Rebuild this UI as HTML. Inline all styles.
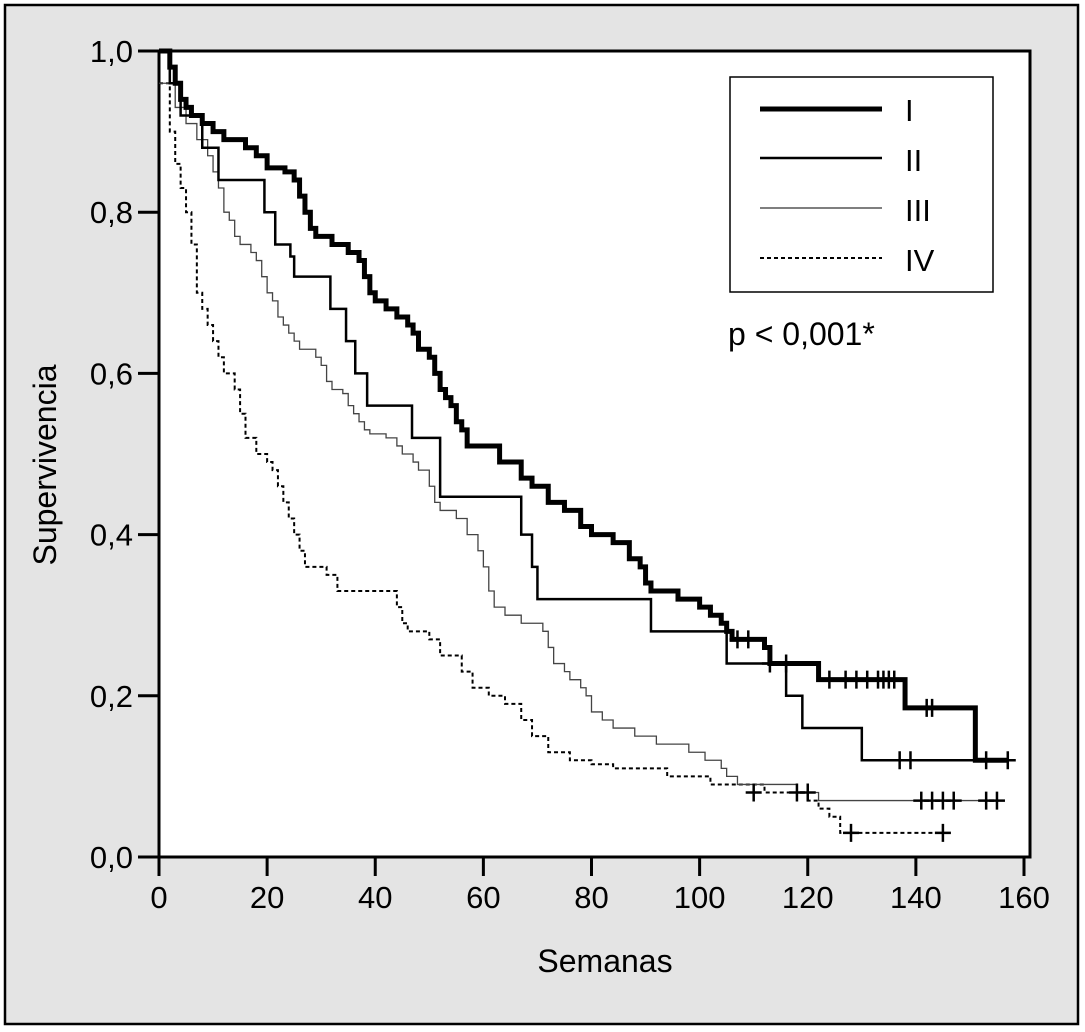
<!DOCTYPE html>
<html><head><meta charset="utf-8"><style>
body{margin:0;background:#fff}
svg{display:block;font-family:"Liberation Sans",sans-serif}
</style></head><body>
<svg id="chart" width="1085" height="1032" viewBox="0 0 1085 1032">
<rect x="0" y="0" width="1085" height="1032" fill="#fff"/>
<rect x="5" y="5" width="1073" height="1019" fill="#e4e4e4" stroke="#000" stroke-width="2.5"/>
<rect x="159" y="51" width="871" height="806" fill="#fff" stroke="#000" stroke-width="3"/>
<g id="axes"></g>
<g id="curves"></g>
<g>
<rect x="730" y="77" width="263" height="215" fill="#fff" stroke="#000" stroke-width="1.5"/>
<line x1="760" y1="109" x2="882" y2="109" stroke="#000" stroke-width="5"/>
<line x1="760" y1="158" x2="882" y2="158" stroke="#000" stroke-width="2.5"/>
<line x1="760" y1="208" x2="882" y2="208" stroke="#333" stroke-width="1.2"/>
<line x1="760" y1="258" x2="882" y2="258" stroke="#000" stroke-width="2" stroke-dasharray="4,3"/>
<text x="905" y="121" font-size="31">I</text>
<text x="905" y="171" font-size="31">II</text>
<text x="905" y="221" font-size="31">III</text>
<text x="905" y="271" font-size="31">IV</text>
</g>
<text x="728" y="345" font-size="32">p &lt; 0,001*</text>
<text x="605" y="972" font-size="32" text-anchor="middle">Semanas</text>
<text x="0" y="0" font-size="32" text-anchor="middle" transform="translate(56,465) rotate(-90)">Supervivencia</text>
</svg>
<script>
const xTicks=[0,20,40,60,80,100,120,140,160];
const yTicks=[0,0.2,0.4,0.6,0.8,1.0];
const yTickLabels=["0,0","0,2","0,4","0,6","0,8","1,0"];
const seriesI=[[0,1.0],[2,0.98],[3,0.96],[4,0.94],[5,0.93],[6,0.92],[8,0.91],[10,0.90],[12,0.89],[16,0.88],[18,0.87],[20,0.855],[23.3,0.85],[25,0.84],[26,0.82],[27,0.80],[28,0.78],[29,0.77],[32,0.76],[35,0.75],[37,0.74],[38,0.72],[39,0.70],[40,0.69],[42,0.68],[44,0.67],[46,0.66],[47,0.65],[48,0.63],[50,0.62],[51,0.60],[52,0.58],[53,0.57],[54,0.56],[55,0.54],[56,0.53],[57,0.51],[63,0.49],[67,0.47],[69,0.46],[72,0.44],[75,0.43],[78,0.41],[80,0.40],[84,0.39],[87,0.37],[89,0.36],[90,0.34],[91,0.33],[96,0.32],[100,0.31],[102,0.30],[104,0.29],[105,0.28],[106,0.27],[112,0.26],[113,0.24],[122,0.22],[138,0.185],[151,0.12],[157,0.12]];
const censI=[[107,0.27],[109,0.27],[113,0.24],[116,0.24],[124,0.22],[127,0.22],[129,0.22],[131,0.22],[133,0.22],[134,0.22],[135,0.22],[136,0.22],[142,0.185],[143,0.185],[153,0.12],[157,0.12]];
const seriesII=[[0,1.0],[2,0.96],[4,0.92],[8,0.88],[11,0.84],[19.5,0.80],[21.5,0.76],[24.3,0.745],[25,0.72],[31.7,0.68],[34.6,0.64],[36.3,0.60],[38.5,0.56],[46.8,0.52],[52,0.447],[67,0.40],[69,0.36],[70,0.32],[91,0.28],[105,0.24],[116,0.20],[119,0.16],[130,0.12],[157,0.12]];
const censII=[[137,0.12],[139,0.12]];
const seriesIII=[[0,0.96],[3,0.93],[5,0.91],[7,0.89],[9,0.87],[10,0.85],[11,0.83],[12,0.80],[13,0.79],[14,0.77],[15,0.76],[17,0.75],[18,0.74],[19,0.72],[20,0.70],[21,0.69],[22,0.67],[23,0.66],[24,0.65],[25,0.64],[26,0.63],[29,0.62],[30,0.61],[31,0.59],[32,0.58],[34,0.575],[35,0.56],[36,0.55],[37,0.54],[38,0.53],[39,0.525],[42,0.52],[44,0.51],[45,0.50],[47,0.49],[48,0.48],[50,0.46],[51,0.44],[52,0.43],[55,0.42],[57,0.40],[59,0.38],[60,0.36],[61,0.33],[62,0.31],[64,0.30],[67,0.29],[71,0.28],[72,0.26],[73,0.24],[75,0.23],[76,0.22],[78,0.21],[79,0.20],[80,0.18],[82,0.17],[84,0.16],[88,0.15],[92,0.14],[98,0.13],[101,0.12],[104,0.11],[105,0.10],[107,0.09],[118,0.08],[122,0.07],[156,0.07]];
const censIII=[[110,0.08],[118,0.08],[120,0.08],[141,0.07],[143,0.07],[145,0.07],[147,0.07],[153,0.07],[155,0.07]];
const seriesIV=[[0,0.96],[2,0.90],[3,0.86],[4,0.83],[5,0.80],[6,0.76],[7,0.70],[8,0.68],[9,0.66],[10,0.64],[11,0.62],[12,0.60],[14,0.58],[15,0.55],[16,0.52],[18,0.50],[20,0.49],[21,0.48],[22,0.46],[23,0.44],[24,0.42],[25,0.40],[26,0.38],[27,0.36],[31,0.35],[33,0.33],[44,0.31],[45,0.29],[46,0.28],[50,0.27],[52,0.25],[56,0.23],[58,0.21],[61,0.20],[64,0.19],[67,0.17],[69,0.15],[72,0.13],[76,0.12],[80,0.115],[84,0.11],[94,0.10],[102,0.09],[112,0.08],[120,0.07],[122,0.06],[124,0.05],[126,0.03],[144,0.03]];
const censIV=[[128,0.03],[145,0.03]];

const NS="http://www.w3.org/2000/svg";
const X=v=>159+v*(1024-159)/160;
const Y=v=>857-v*806;
function mk(t,a,p){const e=document.createElementNS(NS,t);for(const k in a)e.setAttribute(k,a[k]);p.appendChild(e);return e;}
const ax=document.getElementById('axes');
xTicks.forEach(t=>{
 const l=mk('line',{x1:X(t),x2:X(t),y1:857,y2:876,stroke:'#000','stroke-width':3},ax);
 
 
 const tx=mk('text',{x:X(t),y:908,'font-size':31,'text-anchor':'middle'},ax);tx.textContent=t;
 
 
});
yTicks.forEach((t,i)=>{
 const l=mk('line',{x1:138,x2:159,y1:Y(t),y2:Y(t),stroke:'#000','stroke-width':3},ax);
 
 
 const tx=mk('text',{x:133,y:Y(t)+11,'font-size':31,'text-anchor':'end'},ax);tx.textContent=yTickLabels[i];
 
 
});
const cg=document.getElementById('curves');
function step(data,cens,sw,col,dash,name){
 let d='M'+X(data[0][0])+' '+Y(data[0][1]);
 for(let i=1;i<data.length;i++){d+=' H'+X(data[i][0])+' V'+Y(data[i][1]);}
 const a={d:d,fill:'none',stroke:col,'stroke-width':sw};if(dash)a['stroke-dasharray']=dash;
 const p=mk('path',a,cg);
 
 
 cens.forEach(c=>{
  const g=mk('path',{d:'M'+(X(c[0])-8)+' '+Y(c[1])+' H'+(X(c[0])+8)+' M'+X(c[0])+' '+(Y(c[1])-9)+' V'+(Y(c[1])+9),stroke:'#000','stroke-width':2.5,fill:'none'},cg);
  
  
 });
}
step(seriesIV,censIV,2,'#000','4,3','curve-iv');
step(seriesIII,censIII,1.3,'#444',null,'curve-iii');
step(seriesII,censII,2.5,'#000',null,'curve-ii');
step(seriesI,censI,5,'#000',null,'curve-i');
</script>
</body></html>
